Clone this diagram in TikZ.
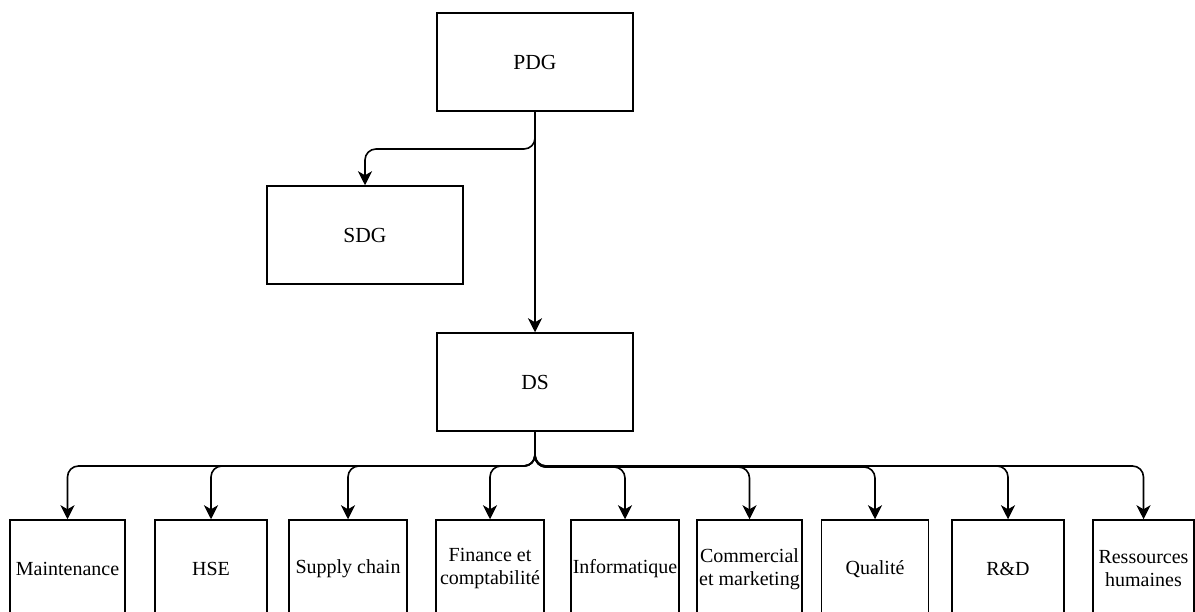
\documentclass[tikz,border=0pt]{standalone}
\usepackage{fontspec}
\setmainfont{Liberation Serif}
\usetikzlibrary{arrows.meta}
\begin{document}
\begin{tikzpicture}[x=1pt,y=-1pt,
  box/.style={draw=black,line width=1.5pt,fill=white,inner sep=2pt,
    align=center,font=\fontsize{20}{23}\selectfont},
  bigbox/.style={box,minimum width=196pt,minimum height=98pt,
    font=\fontsize{21.5}{25}\selectfont},
  unit/.style={box,minimum height=98pt},
  link/.style={draw=black,line width=1.6pt,rounded corners=11pt,
    -{Stealth[length=14pt,width=14pt,inset=4pt]}}]
\useasboundingbox (0,0) rectangle (1195,612);
\clip (0,0) rectangle (1195,612);
\fill[white] (0,0) rectangle (1195,612);

% top of the chart
\node[bigbox] (pdg) at (535,62) {PDG};
\node[bigbox] (sdg) at (365,235) {SDG};
\node[bigbox] (ds)  at (535,382) {DS};

% departments
\node[unit,minimum width=115pt] (mnt) at (67.5,569) {Maintenance};
\node[unit,minimum width=112pt] (hse) at (211,569) {HSE};
\node[unit,minimum width=118pt] (sup) at (348,569) {Supply chain};
\node[unit,minimum width=108pt] (fin) at (490,569) {Finance et\\comptabilité};
\node[unit,minimum width=107pt] (inf) at (625,569) {Informatique};
\node[unit,minimum width=105pt] (com) at (749.5,569) {Commercial\\et marketing};
\node[unit,minimum width=107pt] (qua) at (875,569) {Qualité};
\node[unit,minimum width=112pt] (rnd) at (1008,569) {R\&D};
\node[unit,minimum width=101pt] (rh)  at (1143.5,569) {Ressources\\humaines};

% bus levels
\coordinate (sdgbus) at (0,149);
\coordinate (bus) at (0,466);
\coordinate (busb) at (0,467);

% links
\draw[link] (pdg.south) -- (pdg.south |- sdgbus) -| (sdg.north);
\draw[link,rounded corners=0pt] (pdg.south) -- (ds.north);

\foreach \t in {mnt,hse,sup,fin,rnd,rh}
  \draw[link] (ds.south) -- (ds.south |- bus) -| (\t.north);
\foreach \t in {inf,com,qua}
  \draw[link] (ds.south) -- (ds.south |- busb) -| (\t.north);
\end{tikzpicture}
\end{document}
